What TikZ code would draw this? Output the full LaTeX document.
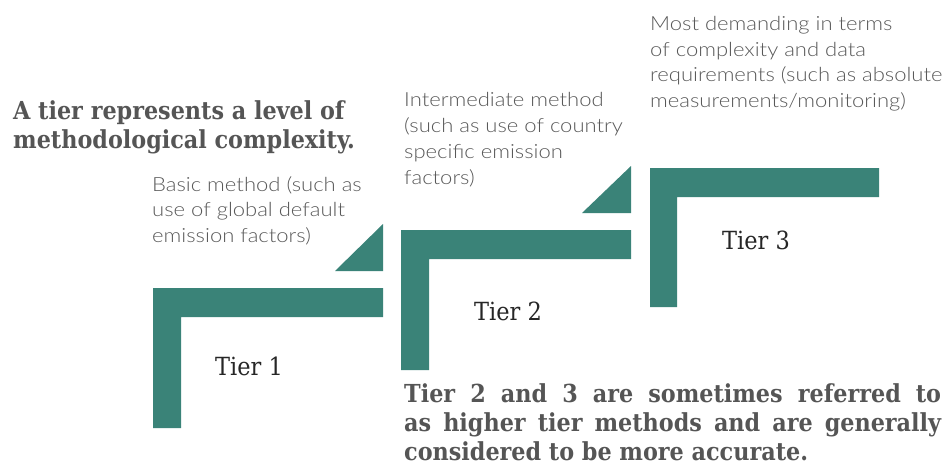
\documentclass[tikz,border=0pt]{standalone}
\usepackage{fontspec}
\usepackage{xcolor}
\usetikzlibrary{positioning}
\setmainfont{DejaVu Serif Condensed}
\newfontfamily\descfont[FakeStretch=1.13]{Lato Light}
\definecolor{tealstep}{RGB}{58,131,120}
\definecolor{notegray}{RGB}{88,88,88}
\definecolor{headgray}{RGB}{85,85,85}
\tikzstyle{stepbar}=[fill=tealstep, draw=none]
\tikzstyle{wedge}=[fill=tealstep, draw=none]
\tikzstyle{note}=[anchor=north west, inner sep=0pt, align=left, text=notegray, font=\descfont\fontsize{19.5}{25.8}\selectfont]
\tikzstyle{tierlabel}=[inner sep=0pt, text=black!85, font=\fontsize{25}{29}\selectfont]
\tikzstyle{headline}=[anchor=north west, inner sep=0pt, align=left, text=headgray, font=\bfseries\fontsize{24.8}{29}\selectfont]

\begin{document}
\begin{tikzpicture}[x=1pt, y=-1pt]
\useasboundingbox (0,0) rectangle (944,468);
% steps
\fill [stepbar] (153,288)--(383,288)--(383,317)--(181,317)--(181,428)--(153,428)--cycle;
\fill [stepbar] (401,230)--(631,230)--(631,259)--(429,259)--(429,370)--(401,370)--cycle;
\fill [stepbar] (650,168)--(879,168)--(879,197)--(677,197)--(677,307)--(650,307)--cycle;
\fill [wedge] (383,224)--(383,271)--(335,271)--cycle;
\fill [wedge] (631,166)--(631,213)--(582,213)--cycle;

\node [tierlabel] (t1) at (249,366) {Tier 1};
\node [tierlabel] (t2) at (508,311) {Tier 2};
\node [tierlabel] (t3) at (756,240) {Tier 3};

\node [headline] (head) at (13,100) {A tier represents a level of\\methodological complexity.};
\node [note] (basic) at (152,176) {Basic method (such as\\use of global default\\emission factors)};
\node [note] (inter) at (404,92.5) {Intermediate method\\(such as use of country\\specific emission\\factors)};
\node [note] (most) at (650,16) {Most demanding in terms\\of complexity and data\\requirements (such as absolute\\measurements/monitoring)};
\node [headline, text width=537pt, align=justify] (higher) at (404,383)
  {Tier 2 and 3 are sometimes referred to\linebreak as higher tier methods and are generally\linebreak considered to be more accurate.};
\end{tikzpicture}
\end{document}
